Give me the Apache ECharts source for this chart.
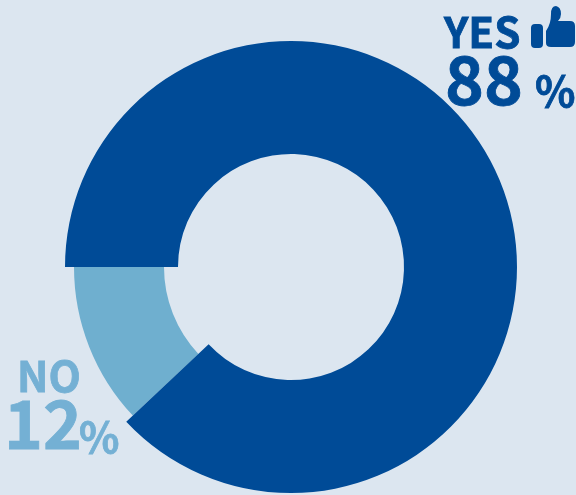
<!DOCTYPE html>
<html><head><meta charset="utf-8">
<style>html,body{margin:0;padding:0;background:#dce6f0}#c{width:576px;height:495px}</style>
<script src="https://cdn.jsdelivr.net/npm/echarts@6/dist/echarts.min.js"></script>
</head><body><div id="c"></div>
<script>
const categories = ['YES', 'NO'];
const values = [88, 12];
const colors = ['#004b97', '#6fafcf'];
const font = '"Noto Sans CJK SC","Noto Sans",sans-serif';
const center = [291, 267];
function sliceData(active) {
  return categories.map((name, i) => ({
    name, value: values[i],
    itemStyle: { color: i === active ? colors[i] : 'transparent' }
  }));
}
function ring(active, radius) {
  return {
    type: 'pie', center, radius, startAngle: 180, clockwise: true, silent: true,
    label: { show: false }, labelLine: { show: false }, animation: false,
    data: sliceData(active)
  };
}
function txt(x, y, text, size, fill) {
  return { type: 'text', x, y, style: { text, font: `bold ${size}px ${font}`, fill, stroke: fill, lineWidth: 0.8 } };
}
echarts.graphic.registerShape('thumb', echarts.graphic.extendPath(
  'M531 28 Q531 24 535 24 L539 24 Q543 24 543 28 L543 44 Q543 48 539 48 L535 48 Q531 48 531 44 Z M546 31 Q551 24 551 14 Q551 6 556 6 Q561 7 561 14 Q561 18 558 21 L570 21 Q575 21 575 26 L575 42 Q575 47 570 47 L551 47 Q546 47 546 43 Z', {}));
const chart = echarts.init(document.getElementById('c'), null, { renderer: 'canvas' });
chart.setOption({
  backgroundColor: '#dce6f0',
  series: [ring(1, [127, 217]), ring(0, [113, 226])],
  graphic: [
    txt(444, 11, categories[0], 42, colors[0]),
    txt(445, 47, values[0] + '', 66, colors[0]),
    txt(535, 70, '%', 42, colors[0]),
    txt(17, 355, categories[1], 42, '#74b0d4'),
    txt(4, 391, values[1] + '', 66, '#74b0d4'),
    txt(79, 416, '%', 42, '#74b0d4'),
    { type: 'thumb', style: { fill: colors[0] } }
  ]
});
</script></body></html>
